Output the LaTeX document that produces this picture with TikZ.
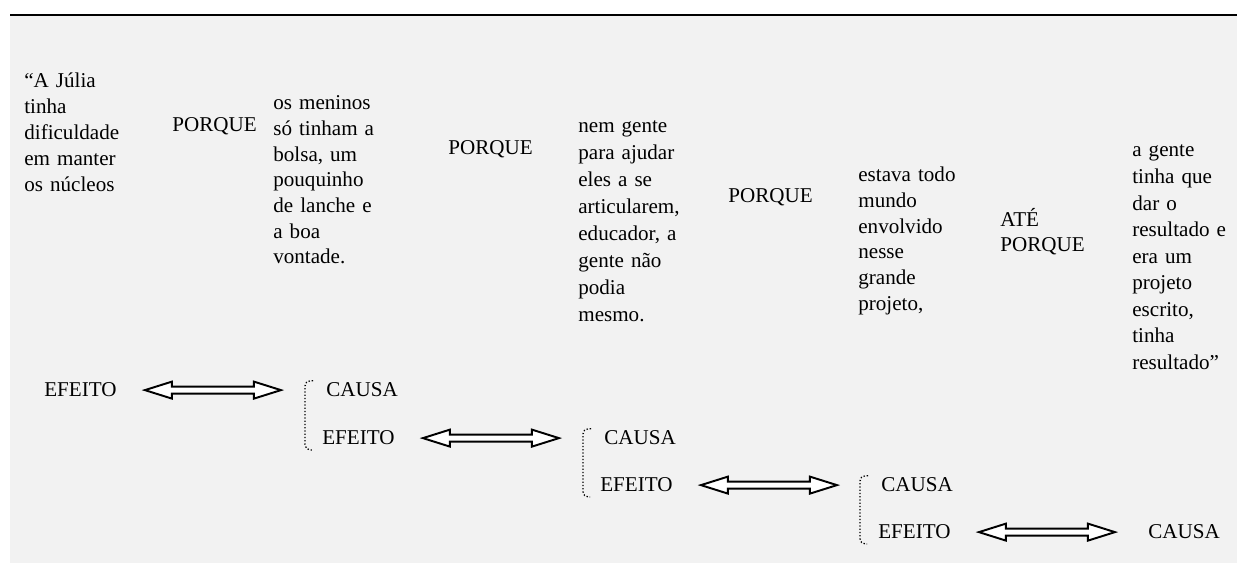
\documentclass[tikz,border=0pt]{standalone}
\usepackage{fontspec}
\setmainfont{Liberation Serif}
\usetikzlibrary{calc}
\definecolor{bggray}{HTML}{F2F2F2}

\begin{document}
\begin{tikzpicture}[
            x=0.02cm, y=-0.02cm,
            txt/.style={text width=2.6cm, align=left, anchor=base west, inner sep=0pt, font=\fontsize{12}{#1}\selectfont},
            lbl/.style={anchor=base west, inner sep=0pt, font=\fontsize{12}{14}\selectfont},
            brk/.style={line width=0.75pt, dash pattern=on 0.75pt off 1.1pt, rounded corners=3pt},
            pics/dblarrow/.style={code={
                \draw[line width=1.1pt, fill=white]
                    (0,0) -- (27,-8.5) -- (27,-3.5) -- (109,-3.5) -- (109,-8.5) -- (136,0)
                    -- (109,8.5) -- (109,3.5) -- (27,3.5) -- (27,8.5) -- cycle;
            }}
        ]
        \useasboundingbox (0,0) rectangle (1237,563);
        \fill[bggray] (10,16) rectangle (1237,563);
        \draw[line width=0.04cm] (10,15) -- (1237,15);

        % the quote, split in clauses
        \node[txt=14.7pt] (clause1) at (24,88) {“A Júlia\\tinha\\dificuldade\\em manter\\os núcleos};
        \node[txt=14pt] (porque1) at (172,132) {PORQUE};
        \node[txt=14.6pt] (clause2) at (273,110) {os meninos\\só tinham a\\bolsa, um\\pouquinho\\de lanche e\\a boa\\vontade.};
        \node[txt=14pt] (porque2) at (448,155) {PORQUE};
        \node[txt=15.3pt] (clause3) at (578,133) {nem gente\\para ajudar\\eles a se\\articularem,\\educador, a\\gente não\\podia\\mesmo.};
        \node[txt=14pt] (porque3) at (728,203) {PORQUE};
        \node[txt=14.6pt] (clause4) at (858,182) {estava todo\\mundo\\envolvido\\nesse\\grande\\projeto,};
        \node[txt=13.7pt] (ateporque) at (1000,227) {ATÉ\\PORQUE};
        \node[txt=15.1pt] (clause5) at (1132,157) {a gente\\tinha que\\dar o\\resultado e\\era um\\projeto\\escrito,\\tinha\\resultado”};

        % cause and effect chain
        \node[lbl] (efeito1) at (44,397) {EFEITO};
        \node[lbl] (causa1) at (326,397) {CAUSA};
        \node[lbl] (efeito2) at (322,445) {EFEITO};
        \node[lbl] (causa2) at (604,445) {CAUSA};
        \node[lbl] (efeito3) at (600,492) {EFEITO};
        \node[lbl] (causa3) at (881,492) {CAUSA};
        \node[lbl] (efeito4) at (878,539) {EFEITO};
        \node[lbl] (causa4) at (1148,539) {CAUSA};

        \pic at ($(efeito1.east)+(28,0)$) {dblarrow};
        \pic at ($(efeito2.east)+(28,0)$) {dblarrow};
        \pic at ($(efeito3.east)+(28,0)$) {dblarrow};
        \pic at ($(efeito4.east)+(28,0)$) {dblarrow};

        \draw[brk] ($(causa1.north west)+(-13,-2)$) -- ($(causa1.north west)+(-21,-2)$)
            -- ($(causa1.west |- efeito2.base)+(-21,5)$) -- ($(causa1.west |- efeito2.base)+(-14,5)$);
        \draw[brk] ($(causa2.north west)+(-13,-2)$) -- ($(causa2.north west)+(-21,-2)$)
            -- ($(causa2.west |- efeito3.base)+(-21,5)$) -- ($(causa2.west |- efeito3.base)+(-14,5)$);
        \draw[brk] ($(causa3.north west)+(-13,-2)$) -- ($(causa3.north west)+(-21,-2)$)
            -- ($(causa3.west |- efeito4.base)+(-21,5)$) -- ($(causa3.west |- efeito4.base)+(-14,5)$);
    \end{tikzpicture}
\end{document}
